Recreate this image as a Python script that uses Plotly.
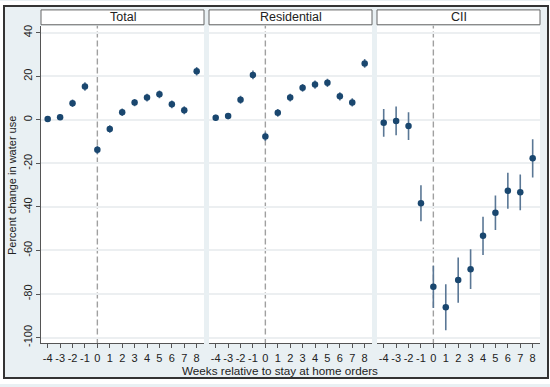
import plotly.graph_objects as go

W, H = 550, 387

weeks = [-4, -3, -2, -1, 0, 1, 2, 3, 4, 5, 6, 7, 8]
tick_labels = ["-4", "-3", "-2", "-1", "0", "1", "2", "3", "4", "5", "6", "7", "8"]
panel_names = ["Total", "Residential", "CII"]

total_est = [0.4, 1.2, 7.6, 15.3, -13.8, -4.2, 3.5, 7.9, 10.2, 11.7, 7.1, 4.4, 22.3]
total_err = [1.3, 1.3, 1.7, 1.9, 1.9, 1.7, 1.7, 1.7, 1.8, 1.8, 1.8, 1.8, 1.9]

resid_est = [0.9, 1.7, 9.2, 20.6, -7.7, 3.2, 10.2, 14.7, 16.2, 17.0, 10.8, 8.0, 25.9]
resid_err = [1.4, 1.4, 1.8, 2.0, 2.0, 1.8, 1.8, 1.8, 1.9, 1.9, 1.9, 1.9, 2.0]

cii_est = [-1.4, -0.5, -2.9, -38.3, -76.7, -86.1, -73.6, -68.6, -53.3, -42.7, -32.6, -33.3, -17.7]
cii_err = [6.4, 6.6, 6.4, 8.3, 9.7, 10.6, 10.4, 9.1, 8.8, 7.9, 8.3, 8.2, 8.8]

y_ticks = [-100, -80, -60, -40, -20, 0, 20, 40]
y_tick_labels = ["-100", "-80", "-60", "-40", "-20", "0", "20", "40"]

def px(x):
    return x / W

def py(y):
    return 1 - y / H

FONT = "Liberation Sans, Arial, sans-serif"
NAVY = "#1a476f"
BAR = "#5a7795"
BG = "#e9f0f3"

panels_px = [(41, 204), (209, 372), (377, 540)]
plot_top, plot_bot = 25, 346
xr = [-4.54, 8.59]
yr = [-102.7, 43.2]

fig = go.Figure()
series = [(total_est, total_err), (resid_est, resid_err), (cii_est, cii_err)]
xrefs = ["x", "x2", "x3"]
for i, (est, err) in enumerate(series):
    fig.add_trace(go.Scatter(
        x=weeks, y=est, mode="markers", xaxis=xrefs[i], yaxis="y",
        marker=dict(color=NAVY, size=6.5),
        error_y=dict(type="data", array=err, visible=True, color=BAR, thickness=1.6, width=0),
        showlegend=False, hoverinfo="skip"))

layout = dict(
    width=W, height=H,
    margin=dict(l=0, r=0, t=0, b=0),
    paper_bgcolor=BG, plot_bgcolor="white",
    font=dict(family=FONT, color="#222"),
    showlegend=False,
    yaxis=dict(
        domain=[py(plot_bot), py(plot_top)], range=yr, anchor="x",
        tickvals=y_ticks, ticktext=y_tick_labels, tickangle=-90,
        ticks="outside", ticklen=4, tickcolor="#555", tickwidth=1,
        showline=True, linecolor="#555", linewidth=1,
        showgrid=True, gridcolor="#eceff1", gridwidth=1.5,
        zeroline=False, tickfont=dict(size=11, color="#222")),
)
for i, (l, r) in enumerate(panels_px):
    key = "xaxis" if i == 0 else f"xaxis{i+1}"
    layout[key] = dict(
        domain=[px(l), px(r)], range=xr, anchor="y",
        tickvals=weeks, ticktext=tick_labels, tickangle=0,
        ticks="outside", ticklen=4, tickcolor="#555", tickwidth=1,
        showline=True, linecolor="#555", linewidth=1,
        showgrid=False, zeroline=False, tickfont=dict(size=11, color="#222"))
fig.update_layout(**layout)

shapes = []
# white margins outside the frame
for (x0, y0, x1, y1) in [(0, 0, 4, H), (548, 0, W, H), (0, 0, W, 5), (0, 381, W, H)]:
    shapes.append(dict(type="rect", xref="paper", yref="paper",
                       x0=px(x0), x1=px(x1), y0=py(y1), y1=py(y0),
                       fillcolor="white", line=dict(width=0), layer="below"))
# outer frame
shapes.append(dict(type="rect", xref="paper", yref="paper",
                   x0=px(4), x1=px(548), y0=py(381), y1=py(5),
                   line=dict(color="#333", width=2), fillcolor="rgba(0,0,0,0)", layer="above"))
for i, (l, r) in enumerate(panels_px):
    xa = xrefs[i]
    # zero line
    shapes.append(dict(type="line", xref=f"{xa} domain", yref="y",
                       x0=0, x1=1, y0=0, y1=0,
                       line=dict(color="#d9899b", width=1.6, dash="18px,5px"), layer="below"))
    # event line
    shapes.append(dict(type="line", xref=xa, yref="y domain",
                       x0=0, x1=0, y0=0, y1=1,
                       line=dict(color="#a0a0a0", width=1.4, dash="6px,3px"), layer="below"))
    # strip header
    shapes.append(dict(type="rect", xref="paper", yref="paper",
                       x0=px(l), x1=px(r), y0=py(24), y1=py(9),
                       fillcolor="white", line=dict(color="#666", width=1), layer="above"))
fig.update_layout(shapes=shapes)

annotations = []
for i, (l, r) in enumerate(panels_px):
    annotations.append(dict(text=panel_names[i], xref="paper", yref="paper",
                            x=px((l + r) / 2), y=py(16.5), showarrow=False,
                            xanchor="center", yanchor="middle",
                            font=dict(size=12.5, color="#222", family=FONT)))
annotations.append(dict(text="Percent change in water use", xref="paper", yref="paper",
                        x=px(12), y=py(187), textangle=-90, showarrow=False,
                        xanchor="center", yanchor="middle",
                        font=dict(size=11, color="#222", family=FONT)))
annotations.append(dict(text="Weeks relative to stay at home orders", xref="paper", yref="paper",
                        x=px(280), y=py(373), showarrow=False,
                        xanchor="center", yanchor="middle",
                        font=dict(size=11.7, color="#222", family=FONT)))
fig.update_layout(annotations=annotations)

fig.write_html("out.html", config={"displayModeBar": False},
               post_script="document.body.style.margin='0';document.body.style.overflow='hidden';")
